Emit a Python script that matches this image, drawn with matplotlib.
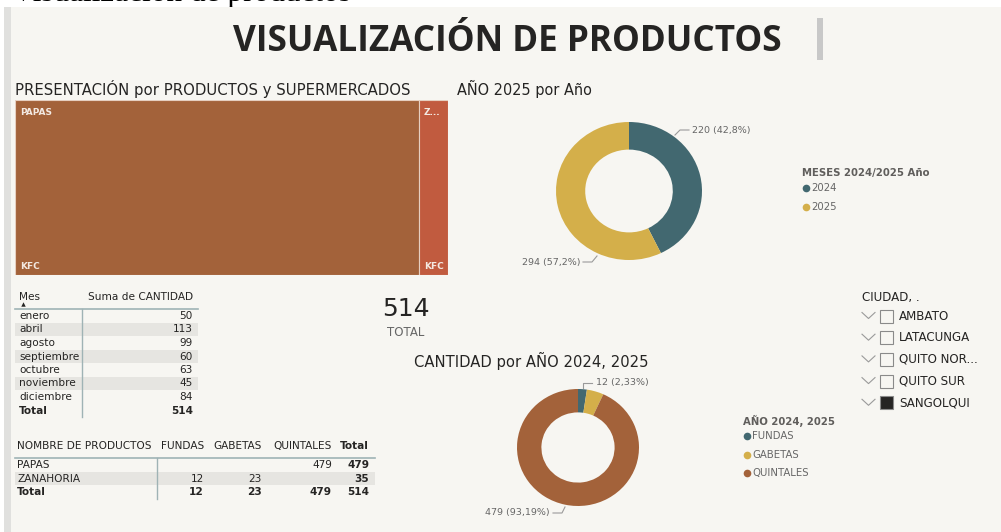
import numpy as np
import matplotlib
matplotlib.use("Agg")
import matplotlib.pyplot as plt
from matplotlib.patches import Rectangle

W, H = 1001, 532

# ---- data -------------------------------------------------------------
tree_labels = ["PAPAS", "Z..."]
tree_stores = ["KFC", "KFC"]
tree_values = [479, 35]

year_labels = ["2024", "2025"]
year_values = [220, 294]

months = ["enero", "abril", "agosto", "septiembre", "octubre", "noviembre", "diciembre"]
month_values = [50, 113, 99, 60, 63, 45, 84]

presentations = ["FUNDAS", "GABETAS", "QUINTALES"]
presentation_values = [12, 23, 479]

products = ["PAPAS", "ZANAHORIA"]
product_matrix = [[None, None, 479],
                  [12, 23, None]]

cities = ["AMBATO", "LATACUNGA", "QUITO NOR...", "QUITO SUR", "SANGOLQUI"]
city_checked = [False, False, False, False, True]

# ---- style --------------------------------------------------------------
BG = "#f7f6f2"
TEAL = "#426870"
GOLD = "#d4af4a"
BROWN = "#a3623a"
RUST = "#c15b3f"
DARK = "#252423"
GREY = "#666666"
SHADE = "#e6e5e1"
RULE = "#9fb3b5"
SANS = "DejaVu Sans"

fig = plt.figure(figsize=(W / 100, H / 100), dpi=100)
fig.patch.set_facecolor("white")
base = fig.add_axes([0, 0, 1, 1])
base.set_xlim(0, W)
base.set_ylim(H, 0)
base.axis("off")


def px_axes(x0, y0, x1, y1):
    return fig.add_axes([x0 / W, 1 - y1 / H, (x1 - x0) / W, (y1 - y0) / H])


def fit_width(t, target):
    r = fig.canvas.get_renderer()
    w = t.get_window_extent(renderer=r).width
    t.set_fontsize(t.get_fontsize() * target / w)


# page heading above the report canvas
base.text(12, 0.5, "Visualización de productos", family="Liberation Serif",
          fontsize=22.5, va="baseline", ha="left", color="black", zorder=0.5)

# report canvas
base.add_patch(Rectangle((4, 7), W - 4, H - 7, fc=BG, ec="none", zorder=1))
base.add_patch(Rectangle((4, 7), 7, H - 7, fc="#e0e0de", ec="none", zorder=1.1))

# report title
t = base.text(507, 42, "VISUALIZACIÓN DE PRODUCTOS", family="Open Sans",
              weight="bold", fontsize=26, ha="center", va="center", color=DARK, zorder=3)
fit_width(t, 550)
base.add_patch(Rectangle((817, 18), 6, 42, fc="#c8c8c8", ec="none", zorder=3))

# section titles
for x, y, s, w in [(15, 89, "PRESENTACIÓN por PRODUCTOS y SUPERMERCADOS", 394),
                   (457, 89, "AÑO 2025 por Año", 136),
                   (414, 361, "CANTIDAD por AÑO 2024, 2025", 234)]:
    tt = base.text(x, y, s, family=SANS, fontsize=10.5, ha="left", va="center",
                   color=DARK, zorder=3)
    fit_width(tt, w)

# ---- treemap ------------------------------------------------------------
ax_tm = px_axes(15, 100, 448, 275)
lefts = np.concatenate([[0], np.cumsum(tree_values)[:-1]])
ax_tm.bar(lefts, 1, width=tree_values, align="edge", color=[BROWN, RUST],
          edgecolor="#e6cfc0", linewidth=0.8)
ax_tm.set_xlim(0, sum(tree_values))
ax_tm.set_ylim(0, 1)
ax_tm.axis("off")
for l, lab, store in zip(lefts, tree_labels, tree_stores):
    ax_tm.annotate(lab, (l, 1), xytext=(4, -6), textcoords="offset points",
                   ha="left", va="top", fontsize=6.5, weight="bold",
                   color="#f3e9e2", family=SANS)
    ax_tm.annotate(store, (l, 0), xytext=(4, 3), textcoords="offset points",
                   ha="left", va="bottom", fontsize=6.5, weight="bold",
                   color="#f3e9e2", family=SANS)

# ---- donut: year --------------------------------------------------------
def donut(box, values, colors):
    ax = px_axes(*box)
    ax.pie(values, colors=colors, startangle=90, counterclock=False,
           wedgeprops=dict(width=0.4, edgecolor="none"))
    ax.set_xlim(-1, 1)
    ax.set_ylim(-1, 1)
    ax.set_aspect("auto")
    ax.axis("off")
    return ax


donut((556, 122, 702, 260), year_values, [TEAL, GOLD])
tot_year = sum(year_values)
year_txt = [f"{v} ({v / tot_year * 100:.1f}%)".replace(".", ",") for v in year_values]
LEAD = "#9a9a9a"
base.plot([675, 680, 689], [135, 130, 130], color=LEAD, lw=0.8, zorder=3)
base.text(692, 130, year_txt[0], family=SANS, fontsize=6.8, color=GREY,
          ha="left", va="center", zorder=3)
base.plot([583, 592, 597], [262, 262, 256], color=LEAD, lw=0.8, zorder=3)
base.text(580, 262, year_txt[1], family=SANS, fontsize=6.8, color=GREY,
          ha="right", va="center", zorder=3)

base.text(802, 173, "MESES 2024/2025 Año", family=SANS, fontsize=7.3,
          weight="bold", color="#605e5c", ha="left", va="center", zorder=3)
for i, (lab, c) in enumerate(zip(year_labels, [TEAL, GOLD])):
    y = 188 + i * 19
    base.plot(806, y, "o", ms=5.5, color=c, mec="none", zorder=3)
    base.text(811.5, y, lab, family=SANS, fontsize=7.3, color=GREY,
              ha="left", va="center", zorder=3)

# ---- donut: presentation -----------------------------------------------
donut((517, 389, 639, 506), presentation_values, [TEAL, GOLD, BROWN])
tot_p = sum(presentation_values)
pres_txt = [f"{v} ({v / tot_p * 100:.2f}%)".replace(".", ",") for v in presentation_values]
base.plot([583, 583, 592], [388, 383, 383], color=LEAD, lw=0.8, zorder=3)
base.text(596, 383, pres_txt[0], family=SANS, fontsize=6.8, color=GREY,
          ha="left", va="center", zorder=3)
base.plot([565, 562, 553], [507, 513, 513], color=LEAD, lw=0.8, zorder=3)
base.text(550, 513, pres_txt[2], family=SANS, fontsize=6.8, color=GREY,
          ha="right", va="center", zorder=3)

base.text(743, 421, "AÑO 2024, 2025", family=SANS, fontsize=7.3,
          weight="bold", color="#605e5c", ha="left", va="center", zorder=3)
for i, (lab, c) in enumerate(zip(presentations, [TEAL, GOLD, BROWN])):
    y = 436 + i * 18.7
    base.plot(747, y, "o", ms=5.5, color=c, mec="none", zorder=3)
    base.text(752, y, lab, family=SANS, fontsize=7.3, color=GREY,
              ha="left", va="center", zorder=3)

# ---- KPI card ----------------------------------------------------------
base.text(405.5, 309, f"{sum(month_values)}", family=SANS, fontsize=18,
          color=DARK, ha="center", va="center", zorder=3)
base.text(405.5, 333, "TOTAL", family=SANS, fontsize=8.5, color=GREY,
          ha="center", va="center", zorder=3)

# ---- table: months -----------------------------------------------------
TF = 7.6
base.text(19, 297, "Mes", family=SANS, fontsize=TF, color=DARK, ha="left",
          va="center", zorder=3)
base.plot(22.5, 304, "^", ms=3.2, color=DARK, mec="none", zorder=3)
base.text(193, 297, "Suma de CANTIDAD", family=SANS, fontsize=TF, color=DARK,
          ha="right", va="center", zorder=3)
row_h = 13.5
y0 = 316
for i, (m, v) in enumerate(zip(months, month_values)):
    y = y0 + i * row_h
    if i % 2 == 1:
        base.add_patch(Rectangle((15, y - row_h / 2), 183, row_h, fc=SHADE,
                                 ec="none", zorder=2))
    base.text(19, y, m, family=SANS, fontsize=TF, color=DARK, ha="left",
              va="center", zorder=3)
    base.text(193, y, f"{v}", family=SANS, fontsize=TF, color=DARK,
              ha="right", va="center", zorder=3)
yt = y0 + len(months) * row_h
base.text(19, yt, "Total", family=SANS, fontsize=TF, weight="bold", color=DARK,
          ha="left", va="center", zorder=3)
base.text(193, yt, f"{sum(month_values)}", family=SANS, fontsize=TF,
          weight="bold", color=DARK, ha="right", va="center", zorder=3)
base.plot([15, 198], [309, 309], color=RULE, lw=1.2, zorder=3)
base.plot([82, 82], [309, 417], color=RULE, lw=1.0, zorder=3)

# ---- table: products x presentation --------------------------------------
col_right = [204, 262, 332]
base.text(17, 446, "NOMBRE DE PRODUCTOS", family=SANS, fontsize=TF, color=DARK,
          ha="left", va="center", zorder=3)
for x, lab in zip(col_right, presentations):
    base.text(x, 446, lab, family=SANS, fontsize=TF, color=DARK, ha="right",
              va="center", zorder=3)
base.text(369, 446, "Total", family=SANS, fontsize=TF, weight="bold",
          color=DARK, ha="right", va="center", zorder=3)
for i, (p, row) in enumerate(zip(products, product_matrix)):
    y = 465 + i * 13.5
    if i % 2 == 1:
        base.add_patch(Rectangle((15, y - 6.75), 360, 13.5, fc=SHADE,
                                 ec="none", zorder=2))
    base.text(17, y, p, family=SANS, fontsize=TF, color=DARK, ha="left",
              va="center", zorder=3)
    for x, v in zip(col_right, row):
        if v is not None:
            base.text(x, y, f"{v}", family=SANS, fontsize=TF, color=DARK,
                      ha="right", va="center", zorder=3)
    base.text(369, y, f"{sum(v for v in row if v is not None)}", family=SANS,
              fontsize=TF, weight="bold", color=DARK, ha="right", va="center",
              zorder=3)
yt2 = 465 + len(products) * 13.5
base.text(17, yt2, "Total", family=SANS, fontsize=TF, weight="bold", color=DARK,
          ha="left", va="center", zorder=3)
col_tot = [sum(r[j] for r in product_matrix if r[j] is not None) for j in range(3)]
for x, v in zip(col_right, col_tot):
    base.text(x, yt2, f"{v}", family=SANS, fontsize=TF, weight="bold",
              color=DARK, ha="right", va="center", zorder=3)
base.text(369, yt2, f"{sum(col_tot)}", family=SANS, fontsize=TF, weight="bold",
          color=DARK, ha="right", va="center", zorder=3)
base.plot([15, 375], [458, 458], color=RULE, lw=1.2, zorder=3)
base.plot([157, 157], [458, 499], color=RULE, lw=1.0, zorder=3)

# ---- slicer -------------------------------------------------------------
base.text(862, 297, "CIUDAD, .", family=SANS, fontsize=8.6, color=DARK,
          ha="left", va="center", zorder=3)
for i, (c, on) in enumerate(zip(cities, city_checked)):
    y = 316 + i * 21.7
    base.plot([862, 868.5, 875], [y - 3.5, y + 2.5, y - 3.5], color="#9a9a9a",
              lw=0.8, zorder=3)
    base.add_patch(Rectangle((880, y - 6.5), 13, 13,
                             fc=DARK if on else "none", ec="#8a8a8a",
                             lw=0.8, zorder=3))
    base.text(899, y, c, family=SANS, fontsize=8.6, color=DARK, ha="left",
              va="center", zorder=3)

fig.savefig("out.png", dpi=100, facecolor=fig.get_facecolor())
